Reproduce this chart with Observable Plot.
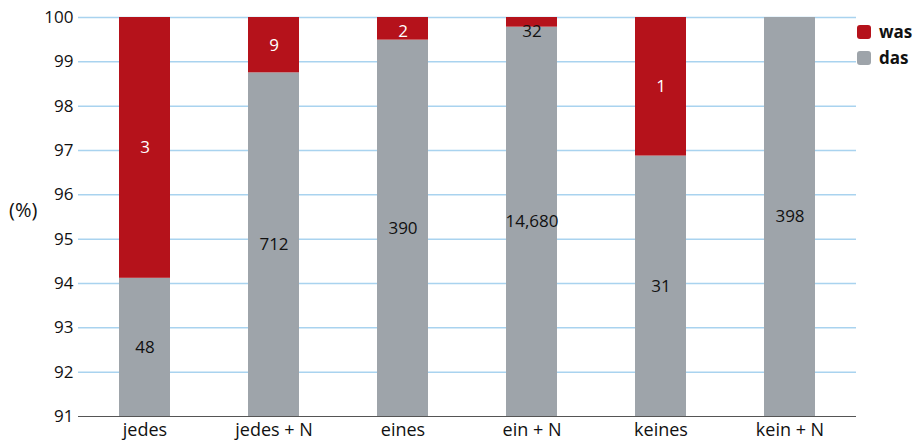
<!DOCTYPE html>
<html><head><meta charset="utf-8">
<script src="https://cdn.jsdelivr.net/npm/d3@7"></script>
<script src="https://cdn.jsdelivr.net/npm/@observablehq/plot@0.6"></script>
<style>
body{margin:0;background:#fff;font-family:"Open Sans",sans-serif;}
#wrap{position:relative;width:915px;height:442px;}
.leg{position:absolute;left:857px;font-size:17px;font-weight:bold;color:#111;display:flex;align-items:center;}
.leg span.sw{display:inline-block;width:14px;height:14px;border-radius:3px;margin-right:8px;}
#pct{position:absolute;left:9px;top:196px;font-size:20px;color:#111;}
</style></head>
<body><div id="wrap"><div id="chart"></div>
<div class="leg" style="top:20px"><span class="sw" style="background:#b5121b"></span>was</div>
<div class="leg" style="top:46px"><span class="sw" style="background:#9ea4aa"></span>das</div>
<div id="pct">(%)</div>
</div>
<script>
const categories = ["jedes", "jedes + N", "eines", "ein + N", "keines", "kein + N"];
const dasCounts = [48, 712, 390, 14680, 31, 398];
const wasCounts = [3, 9, 2, 32, 1, 0];
const yTicks = [91, 92, 93, 94, 95, 96, 97, 98, 99, 100];

const rows = [];
categories.forEach((c, i) => {
  const total = dasCounts[i] + wasCounts[i];
  const dasPct = dasCounts[i] / total * 100;
  rows.push({cat: c, series: "das", count: dasCounts[i], y1: 0, y2: dasPct, mid: (91 + dasPct) / 2, white: false});
  if (wasCounts[i] > 0) {
    const mid = Math.min((dasPct + 100) / 2, 99.68);
    rows.push({cat: c, series: "was", count: wasCounts[i], y1: dasPct, y2: 100, mid, white: mid > dasPct});
  }
});
const fmt = d3.format(",");
const chart = Plot.plot({
  width: 915, height: 442,
  marginLeft: 78, marginRight: 59, marginTop: 17, marginBottom: 26,
  style: {fontFamily: "Open Sans, sans-serif", fontSize: "17px", color: "#111", background: "white"},
  x: {domain: categories, paddingInner: 0.606, paddingOuter: 0.303, label: null},
  y: {domain: [91, 100], ticks: yTicks, label: null},
  color: {domain: ["das", "was"], range: ["#9ea4aa", "#b5121b"]},
  marks: [
    Plot.gridY(yTicks.slice(1), {stroke: "#a9d3ef", strokeOpacity: 1, strokeWidth: 1.5}),
    Plot.barY(rows, {x: "cat", y1: "y1", y2: "y2", fill: "series", clip: true}),
    Plot.ruleY([91], {stroke: "#555", strokeWidth: 1.2}),
    Plot.axisY({ticks: yTicks, tickSize: 0, tickPadding: 5, fontSize: 17, label: null, tickFormat: d => d}),
    Plot.axisX({tickSize: 0, tickPadding: 7, fontSize: 18, label: null}),
    Plot.text(rows, {x: "cat", y: "mid", text: d => fmt(d.count), fill: d => d.white ? "white" : "#111", fontSize: 17})
  ]
});
document.getElementById("chart").appendChild(chart);
</script></body></html>
